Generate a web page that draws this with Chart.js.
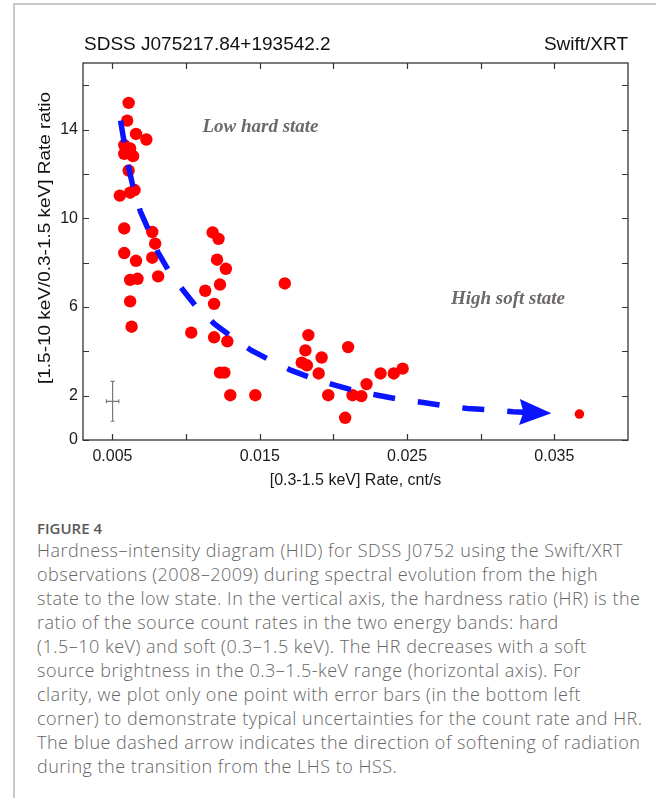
<!DOCTYPE html>
<html><head><meta charset="utf-8">
<script src="https://cdn.jsdelivr.net/npm/chart.js@4.4.1/dist/chart.umd.min.js"></script>
<style>
html,body{margin:0;padding:0;background:#fff;}
body{width:656px;height:798px;position:relative;overflow:hidden;}
#card{position:absolute;left:13px;top:3px;width:700px;height:820px;border-left:2px solid #c9c9c9;border-top:2px solid #c9c9c9;}
#wrap{position:absolute;left:0;top:0;width:656px;height:500px;}
#cap{position:absolute;left:37px;top:518px;font-family:'Open Sans',sans-serif;color:#666;}
.fig{font-weight:600;font-size:15px;color:#585858;line-height:20px;}
.ln{font-weight:300;font-size:18px;letter-spacing:0.5px;line-height:24px;white-space:nowrap;}
</style></head>
<body>
<div id="card"></div>
<div id="wrap"><canvas id="c" width="656" height="500"></canvas></div>
<div id="cap">
<div class="fig">FIGURE 4</div>
<div class="ln">Hardness–intensity diagram (HID) for SDSS J0752 using the Swift/XRT</div>
<div class="ln">observations (2008–2009) during spectral evolution from the high</div>
<div class="ln">state to the low state. In the vertical axis, the hardness ratio (HR) is the</div>
<div class="ln">ratio of the source count rates in the two energy bands: hard</div>
<div class="ln">(1.5–10 keV) and soft (0.3–1.5 keV). The HR decreases with a soft</div>
<div class="ln">source brightness in the 0.3–1.5-keV range (horizontal axis). For</div>
<div class="ln">clarity, we plot only one point with error bars (in the bottom left</div>
<div class="ln">corner) to demonstrate typical uncertainties for the count rate and HR.</div>
<div class="ln">The blue dashed arrow indicates the direction of softening of radiation</div>
<div class="ln">during the transition from the LHS to HSS.</div>
</div>
<script>
// ---- data ----
const softRate = [0.0061,0.0060,0.0066,0.0073,0.0058,0.0062,0.0058,0.0064,0.0062,0.0061,
  0.0065,0.0062,0.0055,0.0058,0.0077,0.0079,0.0058,0.0066,0.0077,0.0118,
  0.0122,0.0121,0.0062,0.0067,0.0081,0.0062,0.0063,0.01035,0.0113,0.0119,
  0.0119,0.0128,0.0123,0.0126,0.0130,0.0147,0.0127,0.0123,0.0167,0.0183,
  0.0181,0.01785,0.0182,0.0192,0.0190,0.0210,0.01965,0.0213,0.0219,0.02225,
  0.0208,0.0232,0.0241,0.0247,0.0367];
const hardnessRatio = [15.2,14.4,13.8,13.55,13.3,13.15,12.9,12.8,13.0,12.15,
  11.27,11.15,11.02,9.54,9.38,8.85,8.43,8.08,8.22,9.36,
  9.07,8.13,7.22,7.27,7.38,6.25,5.11,4.84,6.73,6.14,
  4.63,4.45,3.04,3.04,2.02,2.02,7.72,7.01,7.06,4.73,
  4.04,3.49,3.37,3.72,3.0,4.19,2.02,2.02,1.98,2.52,
  1.0,3.0,3.0,3.22,1.17];
const arrowRate = [0.00555,0.0058,0.0061,0.0064,0.0069,0.0075,0.0081,0.0088,0.0098,0.0107,
  0.0119,0.0131,0.0144,0.0157,0.0171,0.0185,0.0201,0.0215,0.0230,0.0245,
  0.0261,0.0276,0.0291,0.0307,0.0322,0.0348];
const arrowHR = [14.4,13.4,12.3,11.4,10.3,9.4,8.45,7.65,6.75,6.0,
  5.25,4.65,4.05,3.6,3.15,2.8,2.47,2.22,2.02,1.83,
  1.69,1.54,1.42,1.35,1.27,1.21];
const errRate = [0.00501];
const errHR = [1.745];
const errRateSigma = [0.00042];
const errHRSigma = [0.9];
const xTicks = [0.005,0.01,0.015,0.02,0.025,0.03,0.035];
const xTickLabels = ['0.005','','0.015','','0.025','','0.035'];
const yTicks = [0,2,4,6,8,10,12,14,16];
const yTickLabels = ['0','2','','6','','10','','14',''];
const titleLeft = 'SDSS J075217.84+193542.2';
const titleRight = 'Swift/XRT';
const xTitle = '[0.3-1.5 keV] Rate, cnt/s';
const yTitle = '[1.5-10 keV/0.3-1.5 keV] Rate ratio';
const notes = [
  {text:'Low hard state', x:0.01505, y:14.1},
  {text:'High soft state', x:0.03185, y:6.34}
];

const AX = '#333';
const framePlugin = {
  id:'framePlugin',
  afterDatasetsDraw(chart){
    const {ctx, scales:{x,y}} = chart;
    const n = arrowRate.length;
    const tx = x.getPixelForValue(arrowRate[n-1]), ty = y.getPixelForValue(arrowHR[n-1]);
    const px = x.getPixelForValue(arrowRate[n-2]), py = y.getPixelForValue(arrowHR[n-2]);
    const ang = Math.atan2(ty-py, tx-px);
    ctx.save();
    ctx.translate(tx,ty); ctx.rotate(ang);
    ctx.beginPath();
    ctx.moveTo(0,0); ctx.lineTo(-32,-13); ctx.lineTo(-28,0); ctx.lineTo(-32,13); ctx.closePath();
    ctx.fillStyle = '#0a14ff'; ctx.fill();
    ctx.restore();
  },
  afterDraw(chart){
    const {ctx, chartArea:a, scales:{x,y}} = chart;
    ctx.save();
    // frame
    ctx.strokeStyle = AX; ctx.lineWidth = 1.3;
    ctx.strokeRect(a.left, a.top, a.right-a.left, a.bottom-a.top);
    ctx.beginPath();
    const tl = 6;
    xTicks.forEach(v=>{
      const px = Math.round(x.getPixelForValue(v))+0.5;
      ctx.moveTo(px,a.bottom); ctx.lineTo(px,a.bottom-tl);
      ctx.moveTo(px,a.top); ctx.lineTo(px,a.top+tl);
    });
    yTicks.forEach(v=>{
      const py = Math.round(y.getPixelForValue(v))+0.5;
      ctx.moveTo(a.left,py); ctx.lineTo(a.left+tl,py);
      ctx.moveTo(a.right,py); ctx.lineTo(a.right-tl,py);
    });
    ctx.lineWidth = 1.2; ctx.stroke();
    // error bar
    ctx.strokeStyle = '#7a7a7a'; ctx.lineWidth = 1.2;
    errRate.forEach((r,i)=>{
      const cx = x.getPixelForValue(r), cy = y.getPixelForValue(errHR[i]);
      const x0 = x.getPixelForValue(r-errRateSigma[i]), x1 = x.getPixelForValue(r+errRateSigma[i]);
      const y0 = y.getPixelForValue(errHR[i]+errHRSigma[i]), y1 = y.getPixelForValue(errHR[i]-errHRSigma[i]);
      ctx.beginPath();
      ctx.moveTo(cx,y0); ctx.lineTo(cx,y1);
      ctx.moveTo(cx-2,y0); ctx.lineTo(cx+2,y0);
      ctx.moveTo(cx-2,y1); ctx.lineTo(cx+2,y1);
      ctx.moveTo(x0,cy); ctx.lineTo(x1,cy);
      ctx.moveTo(x0,cy-2); ctx.lineTo(x0,cy+2);
      ctx.moveTo(x1,cy-2); ctx.lineTo(x1,cy+2);
      ctx.stroke();
    });
    // annotations
    ctx.fillStyle = '#6d6969';
    ctx.font = 'italic bold 19px "Liberation Serif"';
    ctx.textAlign = 'center'; ctx.textBaseline = 'middle';
    notes.forEach(nt=>ctx.fillText(nt.text, x.getPixelForValue(nt.x), y.getPixelForValue(nt.y)));
    // titles
    ctx.fillStyle = '#111';
    ctx.font = '19px "Liberation Sans"';
    ctx.textAlign = 'left'; ctx.fillText(titleLeft, a.left+1, 45);
    ctx.textAlign = 'right'; ctx.fillText(titleRight, a.right, 45);
    // y title
    ctx.font = '16px "Liberation Sans"';
    ctx.textAlign = 'center';
    const w = ctx.measureText(yTitle).width;
    ctx.translate(46, 238);
    ctx.rotate(-Math.PI/2);
    ctx.scale(292/w, 1);
    ctx.fillText(yTitle, 0, 0);
    ctx.restore();
  }
};

new Chart(document.getElementById('c'), {
  type:'scatter',
  data:{
    datasets:[
      {
        type:'line',
        data: arrowRate.map((v,i)=>({x:v, y:arrowHR[i]})),
        borderColor:'#0a14ff', borderWidth:5.5, borderDash:[22,23], borderCapStyle:'butt',
        pointRadius:0, fill:false, tension:0
      },
      {
        data: softRate.map((v,i)=>({x:v, y:hardnessRatio[i]})),
        backgroundColor:'#ff0000', borderColor:'#ff0000', borderWidth:0,
        pointRadius: c => c.dataIndex === softRate.length-1 ? 4.8 : 6.2
      }
    ]
  },
  options:{
    responsive:false, animation:false, devicePixelRatio:1,
    layout:{padding:{top:63,right:28,left:0,bottom:0}},
    plugins:{legend:{display:false}, tooltip:{enabled:false}},
    scales:{
      x:{
        type:'linear', min:0.003, max:0.04,
        afterBuildTicks: s => { s.ticks = xTicks.map(v=>({value:v})); },
        afterFit: s => { s.height = 60; },
        grid:{display:false, drawTicks:false}, border:{display:false},
        ticks:{padding:7, autoSkip:false, maxRotation:0, color:'#1a1a1a',
          font:{family:'Liberation Sans', size:16},
          callback:(v,i)=>xTickLabels[i]},
        title:{display:true, text:xTitle, color:'#1a1a1a',
          font:{family:'Liberation Sans', size:16}, padding:{top:0,bottom:10}}
      },
      y:{
        type:'linear', min:0, max:17,
        afterBuildTicks: s => { s.ticks = yTicks.map(v=>({value:v})); },
        afterFit: s => { s.width = 83; },
        grid:{display:false, drawTicks:false}, border:{display:false},
        ticks:{padding:5, autoSkip:false, color:'#1a1a1a',
          font:{family:'Liberation Sans', size:16},
          callback:(v,i)=>yTickLabels[i]}
      }
    }
  },
  plugins:[framePlugin]
});
</script>
</body></html>
